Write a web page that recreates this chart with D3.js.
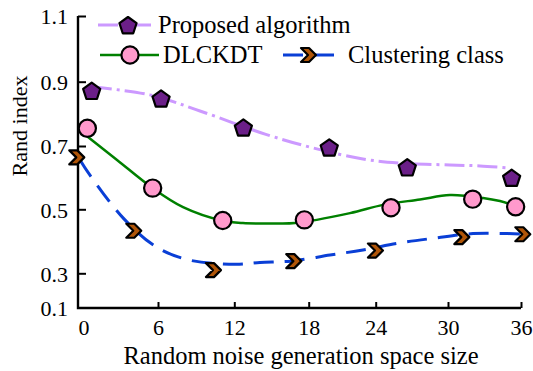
<!DOCTYPE html>
<html>
<head>
<meta charset="utf-8">
<script src="https://cdn.jsdelivr.net/npm/d3@7"></script>
<style>
  body { margin: 0; background: #fff; }
</style>
</head>
<body>
<svg id="chart" width="533" height="371"></svg>
<script>
const xTicks = [0, 6, 12, 18, 24, 30, 36];
const yTicks = [0.1, 0.3, 0.5, 0.7, 0.9, 1.1];

// markers
const proposedX = [0.66, 6.24, 12.73, 19.84, 26.62, 35.23];
const proposedY = [0.872, 0.848, 0.758, 0.696, 0.633, 0.600];
const dlckdtX = [0.31, 5.57, 11.09, 17.65, 25.27, 32.03, 35.56];
const dlckdtY = [0.755, 0.567, 0.465, 0.467, 0.505, 0.532, 0.508];
const clusterX = [-0.5, 4.09, 10.40, 16.84, 24.02, 31.18, 36.19];
const clusterY = [0.664, 0.433, 0.310, 0.338, 0.371, 0.413, 0.422];

// fitted curves (not through the markers exactly)
const proposedFitX = [0.68, 5.35, 9.30, 14.48, 18.38, 22.86, 26.02, 30.16, 32.63, 34.85];
const proposedFitY = [0.884, 0.859, 0.809, 0.737, 0.694, 0.659, 0.646, 0.640, 0.637, 0.631];
const dlckdtFitX = [0.36, 2.70, 5.57, 7.97, 11.03, 12.70, 14.88, 16.90, 21.70, 24.61, 27.68, 30.16, 32.88, 34.27, 35.59];
const dlckdtFitY = [0.728, 0.656, 0.567, 0.507, 0.465, 0.457, 0.456, 0.457, 0.488, 0.514, 0.531, 0.545, 0.536, 0.526, 0.510];
const clusterFitX = [-0.28, 0.52, 3.26, 5.76, 8.28, 12.06, 14.07, 16.57, 19.91, 22.86, 26.02, 28.92, 32.05, 34.93, 35.92];
const clusterFitY = [0.656, 0.608, 0.470, 0.385, 0.343, 0.328, 0.334, 0.338, 0.357, 0.373, 0.395, 0.410, 0.424, 0.424, 0.423];

const seriesNames = ["Proposed algorithm", "DLCKDT", "Clustering class"];

const FONT = "Liberation Serif";
const svg = d3.select("#chart");

// the original axes are not evenly spaced, so piecewise scales
const x = d3.scaleLinear().domain(xTicks).range([83.5, 158, 234.3, 308.7, 375.7, 448, 521]);
const y = d3.scaleLinear().domain(yTicks).range([308, 273.3, 209.3, 146, 81.7, 16]);
const axisLeftX = 78;

const zip = (a, b) => a.map((v, i) => [v, b[i]]);

const series = [
  { name: seriesNames[0], pts: zip(proposedX, proposedY), fit: zip(proposedFitX, proposedFitY),
    stroke: "#cc99ff", width: 3, dash: "20,5,3,5", marker: "pentagon" },
  { name: seriesNames[1], pts: zip(dlckdtX, dlckdtY), fit: zip(dlckdtFitX, dlckdtFitY),
    stroke: "#008000", width: 2.5, dash: null, marker: "circle" },
  { name: seriesNames[2], pts: zip(clusterX, clusterY), fit: zip(clusterFitX, clusterFitY),
    stroke: "#0a3fd6", width: 3, dash: "20,11", marker: "chevron" }
];

function pentagonPath(r) {
  const pts = d3.range(5).map(i => {
    const a = -Math.PI / 2 + i * 2 * Math.PI / 5;
    return [r * Math.cos(a), r * Math.sin(a) + 1];
  });
  return "M" + pts.join("L") + "Z";
}
const chevronPath = "M-8,-7L0,-7L7,0L0,7L-8,7L-1,0Z";

function drawMarker(sel, kind) {
  if (kind === "pentagon") {
    sel.append("path").attr("d", pentagonPath(9))
      .attr("fill", "#6b1f88").attr("stroke", "#000").attr("stroke-width", 2.2)
      .attr("stroke-linejoin", "round");
  } else if (kind === "circle") {
    sel.append("circle").attr("r", 8.6)
      .attr("fill", "#ff99cc").attr("stroke", "#000").attr("stroke-width", 2.2);
  } else {
    sel.append("path").attr("d", chevronPath)
      .attr("fill", "#b05508").attr("stroke", "#000").attr("stroke-width", 2.2)
      .attr("stroke-linejoin", "round");
  }
}

// axes
const xAxis = d3.axisBottom(x).tickValues(xTicks).tickSizeInner(-6).tickSizeOuter(0).tickPadding(11);
const gx = svg.append("g").attr("transform", `translate(0,${y(0.1)})`).call(xAxis);
gx.select(".domain").remove();
gx.selectAll(".tick line").attr("stroke", "#000").attr("stroke-width", 2)
  .filter(d => d === 0).remove();
gx.selectAll(".tick text").attr("font-size", 22);

const yAxis = d3.axisLeft(y).tickValues(yTicks).tickSizeInner(-8).tickSizeOuter(0).tickPadding(10)
  .tickFormat(d3.format(".1f"));
const gy = svg.append("g").attr("transform", `translate(${axisLeftX},0)`).call(yAxis);
gy.select(".domain").remove();
gy.selectAll(".tick line").attr("stroke", "#000").attr("stroke-width", 2)
  .filter(d => d === 0.1).remove();
gy.selectAll(".tick text").attr("font-size", 22).attr("dy", "0.36em");

svg.append("path")
  .attr("d", `M${axisLeftX},${y(1.1)}V${y(0.1)}H${x(36)}`)
  .attr("fill", "none").attr("stroke", "#000").attr("stroke-width", 2.4);

svg.append("text")
  .attr("x", 301).attr("y", 364)
  .attr("text-anchor", "middle")
  .attr("font-size", 24.5)
  .text("Random noise generation space size");

svg.append("text")
  .attr("transform", "translate(27,126) rotate(-90)")
  .attr("text-anchor", "middle")
  .attr("font-size", 22)
  .text("Rand index");

// curves then markers
const line = d3.line().x(d => x(d[0])).y(d => y(d[1])).curve(d3.curveCatmullRom.alpha(0.5));

series.forEach(s => {
  svg.append("path")
    .datum(s.fit)
    .attr("d", line)
    .attr("fill", "none")
    .attr("stroke", s.stroke)
    .attr("stroke-width", s.width)
    .attr("stroke-dasharray", s.dash);
});

series.forEach(s => {
  svg.append("g").selectAll("g")
    .data(s.pts)
    .enter()
    .append("g")
    .attr("transform", d => `translate(${x(d[0])},${y(d[1])})`)
    .each(function() { drawMarker(d3.select(this), s.marker); });
});

// legend
const legendItems = [
  { s: series[0], x0: 98, x1: 155, mx: 128, tx: 158, y: 25 },
  { s: series[1], x0: 100, x1: 159, mx: 130, tx: 163, y: 55 },
  { s: series[2], x0: 283, x1: 334, mx: 309, tx: 348, y: 55 }
];
const lg = svg.append("g");
legendItems.forEach(it => {
  lg.append("line")
    .attr("x1", it.x0).attr("x2", it.x1).attr("y1", it.y).attr("y2", it.y)
    .attr("stroke", it.s.stroke).attr("stroke-width", it.s.width)
    .attr("stroke-dasharray", it.s.dash);
  drawMarker(lg.append("g").attr("transform", `translate(${it.mx},${it.y})`), it.s.marker);
  lg.append("text")
    .attr("x", it.tx).attr("y", it.y + 8)
    .attr("font-size", 24.5)
    .text(it.s.name);
});

svg.selectAll("text").attr("font-family", FONT).attr("fill", "#000");
</script>
</body>
</html>
